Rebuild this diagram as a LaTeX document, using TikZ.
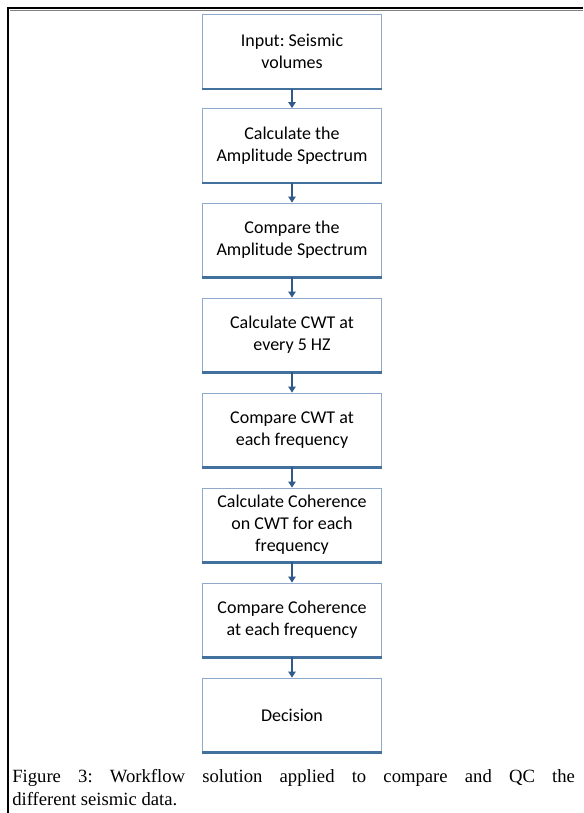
\documentclass[tikz,border=0pt]{standalone}
\usepackage{fontspec}
\setmainfont{Liberation Serif}
\newfontfamily\boxfont{Carlito}
\usetikzlibrary{arrows.meta}
\definecolor{boxline}{HTML}{8FAACC}
\definecolor{boxbottom}{HTML}{41719C}
\definecolor{arrowblue}{HTML}{2F5A8A}
\frenchspacing
\tikzset{
  stepbox/.style={draw=boxline, line width=0.6pt, rectangle, minimum width=134pt, minimum height=55.5pt,
    align=center, font=\boxfont\fontsize{13.5}{16.5}\selectfont, inner sep=0pt},
  flow/.style={draw=arrowblue, line width=1pt, -{Triangle[length=4.5pt,width=5.5pt]}},
  bottomedge/.style={draw=boxbottom, line width=1.8pt},
  captext/.style={anchor=base west, inner sep=0pt, font=\fontsize{14}{17}\selectfont},
}
\begin{document}
\begin{tikzpicture}[x=0.75pt,y=-0.75pt]
\useasboundingbox (0,0) rectangle (583,813);
\fill[white] (0,0) rectangle (583,813);
% frame
\draw[line width=1.6pt,black] (8,813) coordinate (fb) -- (8,8) coordinate (ftl) -- (583,8) coordinate (ftr);
\draw[line width=0.6pt,gray] (10,10.5) coordinate (g1) -- (583,10.5) coordinate (g2);
% boxes
\node[stepbox] (b1) at (292,51.5) {Input: Seismic\\volumes};
\node[stepbox] (b2) at (292,145.5) {Calculate the\\Amplitude Spectrum};
\node[stepbox] (b3) at (292,240) {Compare the\\Amplitude Spectrum};
\node[stepbox] (b4) at (292,335) {Calculate CWT at\\every 5 HZ};
\node[stepbox] (b5) at (292,430) {Compare CWT at\\each frequency};
\node[stepbox] (b6) at (292,525) {Calculate Coherence\\on CWT for each\\frequency};
\node[stepbox] (b7) at (292,620) {Compare Coherence\\at each frequency};
\node[stepbox] (b8) at (292,715) {Decision};
\foreach \n in {b1,b2,b3,b4,b5,b6,b7,b8}
  \draw[bottomedge] (\n.south west) -- (\n.south east);
\foreach \a/\b in {b1/b2,b2/b3,b3/b4,b4/b5,b5/b6,b6/b7,b7/b8}
  \draw[flow] (\a.south) -- (\b.north);
% caption
\node[captext] (cap1) at (12,782)
  {\makebox[422pt][s]{Figure 3: Workflow solution applied to compare and QC the}};
\node[captext] (cap2) at (12,805) {different seismic data.};
\end{tikzpicture}
\end{document}
